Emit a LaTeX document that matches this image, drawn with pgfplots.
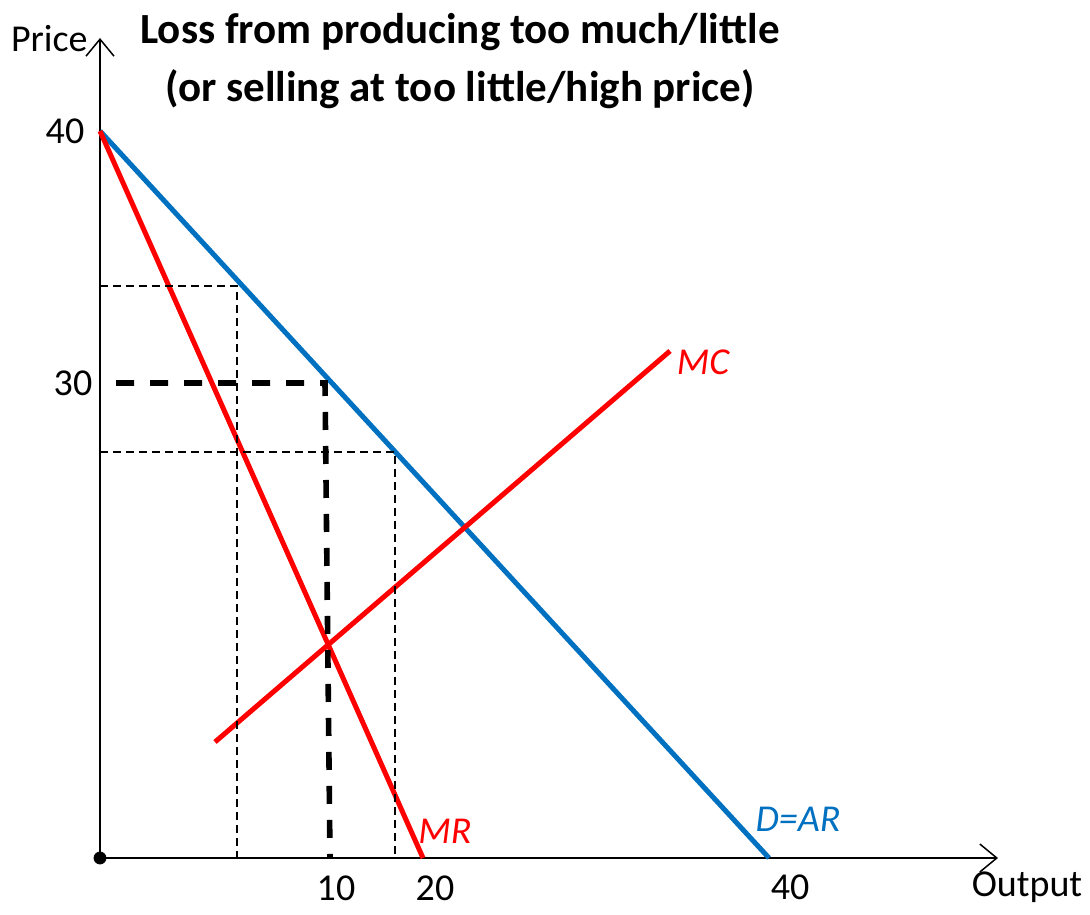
\documentclass[border=0pt]{standalone}
\usepackage{fontspec}
\setmainfont{Carlito}
\usepackage{pgfplots}
\pgfplotsset{compat=1.18}
\usetikzlibrary{arrows.meta}
\definecolor{mcred}{RGB}{255,0,0}
\definecolor{arblue}{RGB}{0,112,192}
\begin{document}
\begin{tikzpicture}
\fontsize{19}{23}\selectfont
\begin{axis}[
  scale only axis, width=449pt, height=410pt,
  xmin=0, xmax=898, ymin=0, ymax=820,
  axis lines=left, xtick=\empty, ytick=\empty,
  axis line style={line width=0.75pt,-{Straight Barb[length=8.5pt,width=14pt]}},
  clip=false,
]
% demand = average revenue
\addplot[arblue, line width=2.5pt] coordinates {(0,727) (669,0)};
% marginal revenue
\addplot[mcred, line width=2.5pt] coordinates {(0,727) (323,0)};
% marginal cost
\addplot[mcred, line width=2.5pt] coordinates {(115,116) (570,507)};
% thin dashed guides
\addplot[black, line width=1pt, dash pattern=on 4pt off 2.5pt] coordinates {(0,572) (137,572) (137,0)};
\addplot[black, line width=1pt, dash pattern=on 4pt off 2.5pt] coordinates {(0,406) (295,406) (295,0)};
% profit max point
\addplot[black, line width=2.8pt, dash pattern=on 9pt off 8pt] coordinates {(16,475) (225,475) (230,0)};
\addplot[only marks, mark=*, mark size=3pt, black] coordinates {(0,0)};

\node[font=\fontsize{21.5}{29}\selectfont\bfseries, align=center] at (axis cs:360,797)
  {Loss from producing too much/little\\(or selling at too little/high price)};
\node[anchor=base east, inner sep=0pt] at (axis cs:-12,806) {Price};
\node at (axis cs:927,-29) {Output};
\node at (axis cs:-35,727) {40};
\node at (axis cs:-27,475) {30};
\node at (axis cs:236,-30) {10};
\node at (axis cs:335,-30) {20};
\node at (axis cs:690,-29) {40};
\node[mcred, font=\fontsize{19}{23}\selectfont\itshape] at (axis cs:603,496) {MC};
\node[mcred, font=\fontsize{19}{23}\selectfont\itshape] at (axis cs:345,27) {MR};
\node[arblue, font=\fontsize{19}{23}\selectfont\itshape] at (axis cs:698,39) {D=AR};
\coordinate (bl) at (axis cs:-100,-56);
\coordinate (tr) at (axis cs:990,858);
\end{axis}
\pgfresetboundingbox
\path[use as bounding box] (bl) rectangle (tr);
\end{tikzpicture}
\end{document}
